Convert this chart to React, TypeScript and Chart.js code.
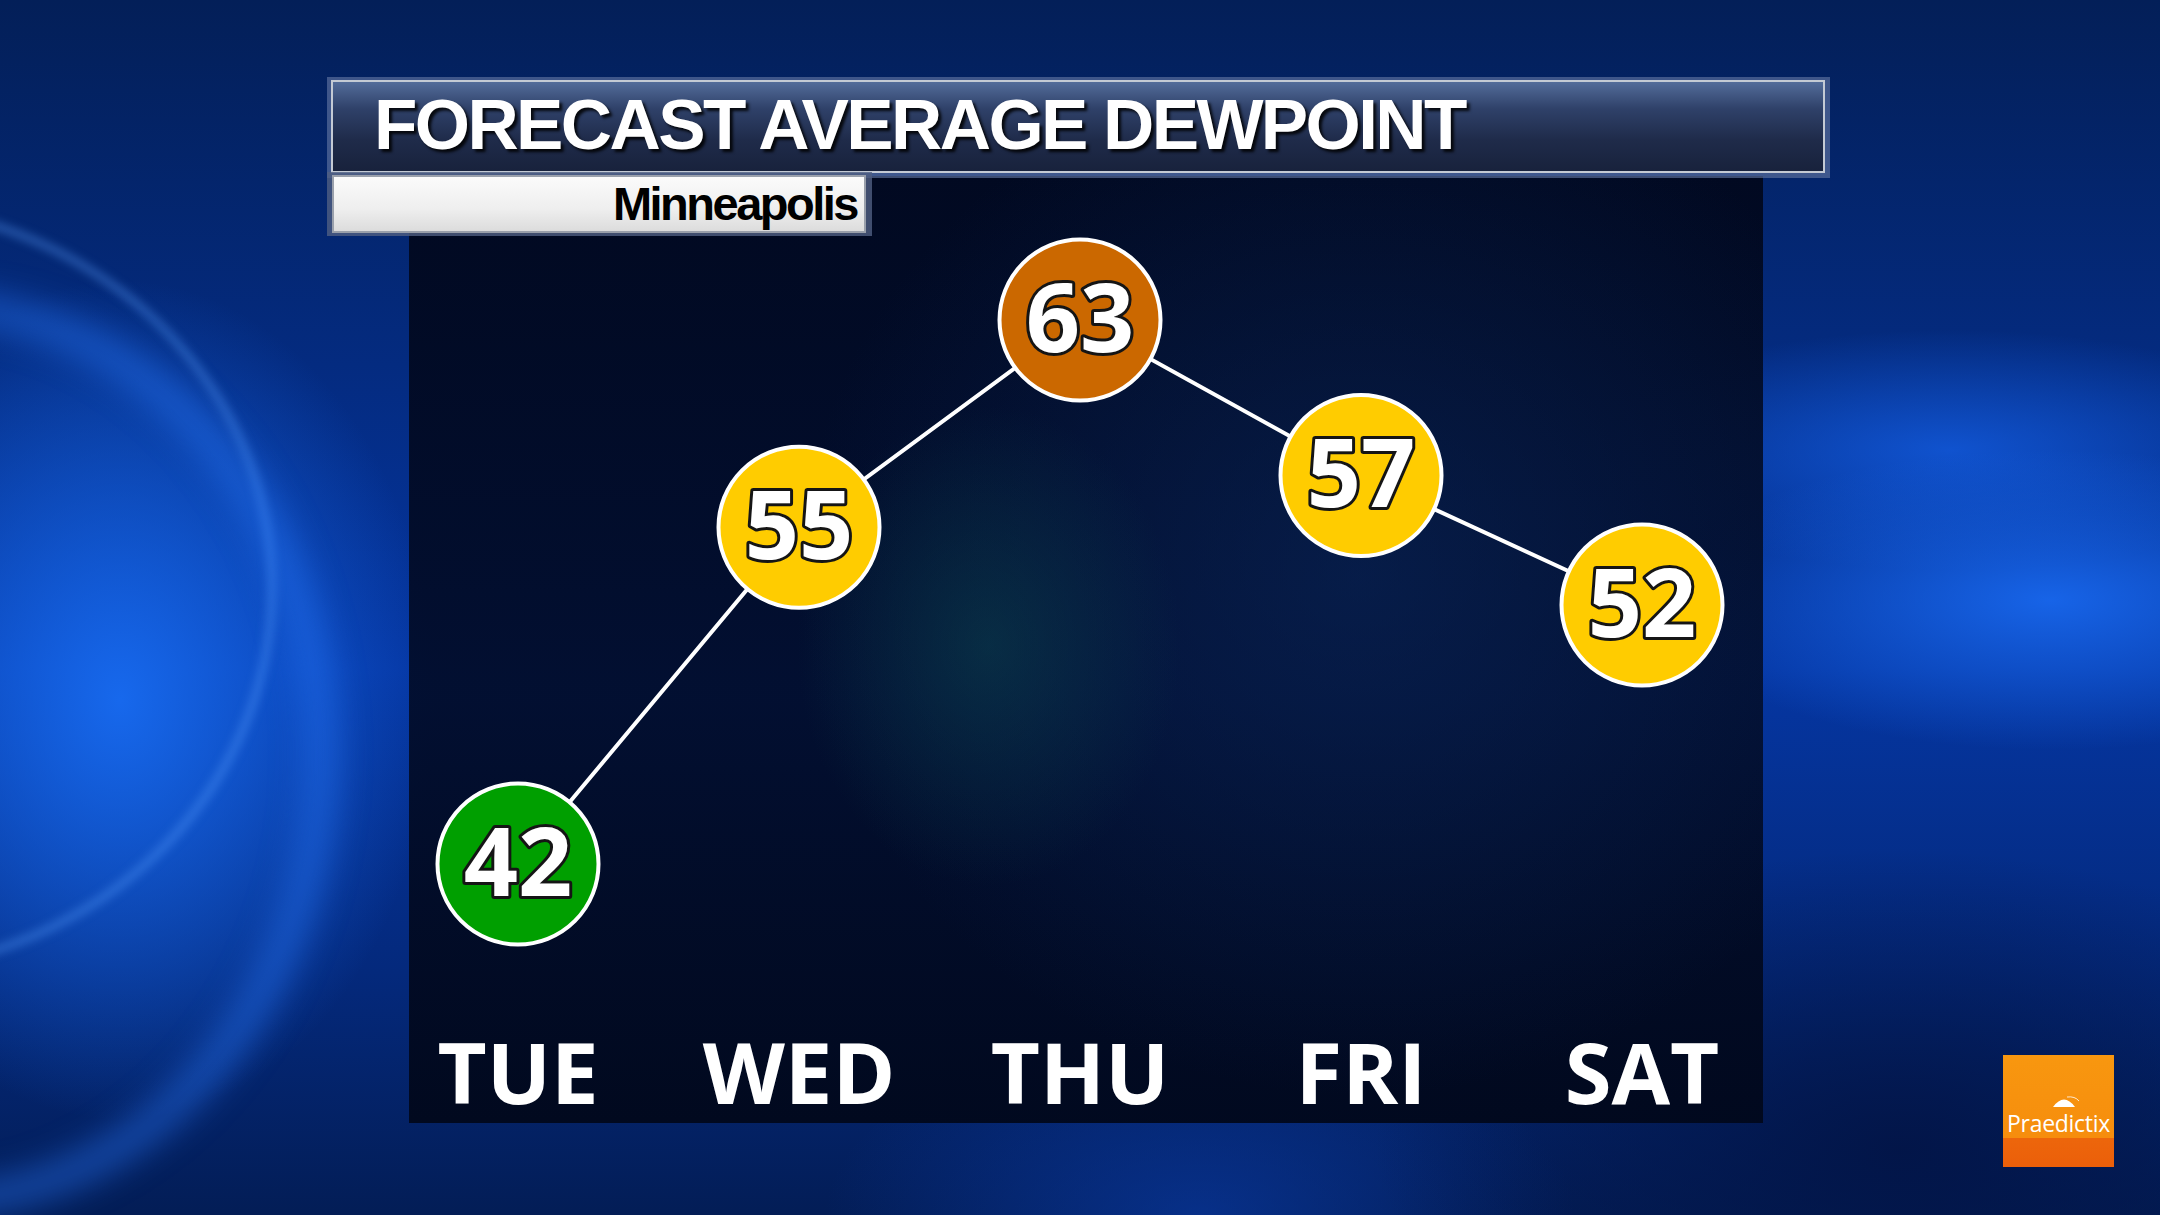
import React, { useEffect, useRef } from "react";
import { Chart, registerables } from "chart.js";

Chart.register(...registerables);

// ---- data ----
const days: string[] = ["TUE", "WED", "THU", "FRI", "SAT"];
const dewpoints: number[] = [42, 55, 63, 57, 52];
const pointColors: string[] = ["#009f00", "#ffcc00", "#cb6800", "#ffcc00", "#ffcc00"];
const yMin = 36;
const yMax = 68;
const titleText = "FORECAST AVERAGE DEWPOINT";
const subtitleText = "Minneapolis";
const logoText = "Praedictix";

const valueLabels = {
  id: "valueLabels",
  afterDatasetsDraw(chart: any) {
    const ctx = chart.ctx as CanvasRenderingContext2D;
    const meta = chart.getDatasetMeta(0);
    ctx.save();
    ctx.font = "bold 95px 'Open Sans'";
    ctx.textAlign = "center";
    ctx.textBaseline = "alphabetic";
    ctx.lineJoin = "round";
    meta.data.forEach((pt: any, i: number) => {
      const txt = String(dewpoints[i]);
      ctx.lineWidth = 6;
      ctx.strokeStyle = "#151515";
      ctx.strokeText(txt, pt.x, pt.y + 32);
      ctx.fillStyle = "#ffffff";
      ctx.fillText(txt, pt.x, pt.y + 32);
    });
    ctx.restore();
  },
};

function DewpointChart() {
  const ref = useRef<HTMLCanvasElement | null>(null);
  useEffect(() => {
    if (!ref.current) return;
    const chart = new Chart(ref.current, {
      type: "line",
      data: {
        labels: days,
        datasets: [
          {
            data: dewpoints,
            borderColor: "#ffffff",
            borderWidth: 4,
            pointRadius: 80.5,
            pointHoverRadius: 80.5,
            pointBorderWidth: 4,
            pointHoverBorderWidth: 4,
            pointBorderColor: "#ffffff",
            pointBackgroundColor: pointColors,
            pointHoverBackgroundColor: pointColors,
            tension: 0,
            fill: false,
            clip: false,
          } as any,
        ],
      },
      options: {
        animation: false,
        responsive: false,
        events: [],
        layout: { padding: { left: 518, right: 518, top: 190.5, bottom: 0 } },
        plugins: {
          legend: { display: false },
          tooltip: { enabled: false },
          title: { display: false },
        },
        scales: {
          x: {
            type: "category",
            offset: false,
            grid: { display: false, drawTicks: false },
            border: { display: false },
            ticks: {
              color: "#ffffff",
              font: { family: "'Open Sans'", weight: "bold", size: 85 },
              padding: 9,
              maxRotation: 0,
              autoSkip: false,
            },
            afterFit: (s: any) => {
              s.height = 195.6;
            },
          },
          y: {
            type: "linear",
            display: false,
            min: yMin,
            max: yMax,
          },
        },
      },
      plugins: [valueLabels],
    });
    return () => chart.destroy();
  }, []);
  return (
    <canvas
      ref={ref}
      width={2160}
      height={1215}
      style={{ position: "absolute", left: 0, top: 0, width: 2160, height: 1215 }}
    />
  );
}

export default function App() {
  return (
    <div
      style={{
        position: "fixed",
        left: 0,
        top: 0,
        width: 2160,
        height: 1215,
        overflow: "hidden",
        background:
          "radial-gradient(ellipse 420px 560px at 120px 700px, rgba(25,110,245,0.9), rgba(25,110,245,0) 75%)," +
          "radial-gradient(ellipse 520px 200px at 2050px 600px, rgba(25,105,240,0.9), rgba(25,105,240,0) 75%)," +
          "radial-gradient(ellipse 500px 160px at 1950px 450px, rgba(20,95,230,0.75), rgba(20,95,230,0) 75%)," +
          "radial-gradient(ellipse 700px 400px at 1900px 1150px, rgba(2,20,70,0.9), rgba(2,20,70,0) 75%)," +
          "radial-gradient(ellipse 500px 250px at 1200px 1215px, rgba(10,60,170,0.6), rgba(10,60,170,0) 75%)," +
          "linear-gradient(180deg, #031f58 0%, #042b80 30%, #0536a2 55%, #04297c 80%, #031d56 100%)",
        fontFamily: "'Liberation Sans', Arial, sans-serif",
      }}
    >
      {/* swirl arcs */}
      <div
        style={{
          position: "absolute",
          left: -560,
          top: 200,
          width: 820,
          height: 760,
          borderRadius: "50%",
          border: "8px solid rgba(90,160,255,0.4)",
          filter: "blur(5px)",
        }}
      />
      <div
        style={{
          position: "absolute",
          left: -470,
          top: 290,
          width: 740,
          height: 860,
          borderRadius: "50%",
          border: "34px solid rgba(40,120,250,0.45)",
          filter: "blur(16px)",
        }}
      />
      {/* panel */}
      <div
        style={{
          position: "absolute",
          left: 409,
          top: 176,
          width: 1354,
          height: 947,
          background:
            "radial-gradient(ellipse 240px 300px at 580px 470px, rgba(12,70,80,0.5), rgba(12,70,80,0) 80%)," +
            "radial-gradient(ellipse 700px 650px at 950px 400px, rgba(10,40,95,0.55), rgba(10,40,95,0) 80%)," +
            "linear-gradient(180deg, rgba(1,8,30,0.96) 0%, rgba(2,12,40,0.92) 55%, rgba(1,8,28,0.96) 100%)",
        }}
      />
      {/* title bar */}
      <div
        style={{
          position: "absolute",
          left: 327,
          top: 77,
          width: 1503,
          height: 101,
          background: "rgba(95,115,160,0.65)",
        }}
      />
      <div
        style={{
          position: "absolute",
          left: 331,
          top: 80,
          width: 1490,
          height: 89,
          border: "2px solid #c4cad4",
          background: "linear-gradient(180deg, #536c9a 0%, #2f4169 30%, #1f2b4a 65%, #18223c 100%)",
        }}
      />
      <div
        style={{
          position: "absolute",
          left: 374,
          top: 89,
          fontSize: 71,
          lineHeight: 1,
          fontWeight: "bold",
          letterSpacing: "-2.6px",
          color: "#ffffff",
          whiteSpace: "nowrap",
          textShadow: "3px 3px 3px rgba(0,0,0,0.85)",
        }}
      >
        {titleText}
      </div>
      {/* subtitle box */}
      <div
        style={{
          position: "absolute",
          left: 327,
          top: 172,
          width: 545,
          height: 64,
          background: "rgba(80,95,130,0.8)",
        }}
      />
      <div
        style={{
          position: "absolute",
          left: 332,
          top: 175,
          width: 530,
          height: 54,
          border: "2px solid #9aa0ab",
          background: "linear-gradient(180deg, #fbfbfb 0%, #eeeeee 60%, #dcdcdc 100%)",
        }}
      />
      <div
        style={{
          position: "absolute",
          right: 2160 - 857,
          top: 180,
          fontSize: 47,
          lineHeight: 1,
          fontWeight: "bold",
          letterSpacing: "-2.5px",
          color: "#000000",
          whiteSpace: "nowrap",
        }}
      >
        {subtitleText}
      </div>
      <DewpointChart />
      {/* logo */}
      <div
        style={{
          position: "absolute",
          left: 2003,
          top: 1055,
          width: 111,
          height: 112,
          background: "linear-gradient(180deg, #f8970f 0%, #f68d0d 74%, #ed660b 74%, #eb5f0a 100%)",
        }}
      >
        <svg
          width={28}
          height={13}
          viewBox="0 0 28 13"
          style={{ position: "absolute", left: 49, top: 41 }}
        >
          <path d="M1 11 Q 12 -4 23 11 Z" fill="#ffffff" />
          <path d="M15 1 Q 23 0 27 5" stroke="#ffffff" strokeWidth={0.8} fill="none" />
        </svg>
        <div
          style={{
            position: "absolute",
            left: 0,
            width: 111,
            top: 54,
            textAlign: "center",
            fontFamily: "'Open Sans', sans-serif",
            fontSize: 23,
            lineHeight: "28px",
            color: "#ffffff",
            letterSpacing: "-0.3px",
          }}
        >
          {logoText}
        </div>
      </div>
    </div>
  );
}
